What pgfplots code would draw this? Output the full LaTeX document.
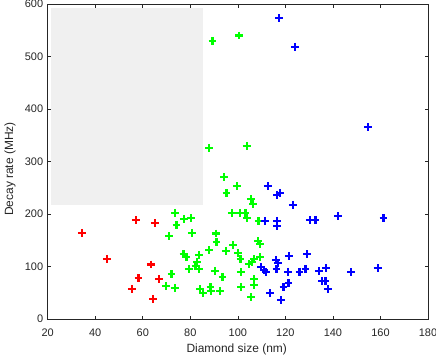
\documentclass[border=0pt]{standalone}
\usepackage{fontspec}
\setmainfont{Liberation Sans}
\usepackage{pgfplots}
\pgfplotsset{compat=1.18}

\definecolor{axgray}{RGB}{38,38,38}
\definecolor{boxfill}{RGB}{240,240,240}

\pgfplotsset{pluspts/.style={only marks, mark=+, mark size=3.9bp, line width=2.2bp}}

\begin{document}
\begin{tikzpicture}
\begin{axis}[
    scale only axis,
    width=380.3bp, height=315bp,
    xmin=20, xmax=180, ymin=0, ymax=600,
    xtick={20,40,...,180},
    ytick={0,100,...,600},
    tick align=inside,
    major tick length=3.5bp,
    axis line style={axgray, line width=0.6bp},
    tick style={axgray, line width=0.6bp},
    /pgf/number format/assume math mode=true,
    ticklabel style={font=\fontsize{11}{13}\selectfont, text=axgray},
    xticklabel style={anchor=north, inner sep=0pt, yshift=-10bp},
    yticklabel style={anchor=east, inner sep=0pt, xshift=-4.4bp},
    xlabel={Diamond size (nm)},
    ylabel={Decay rate (MHz)},
    label style={font=\fontsize{12}{14}\selectfont, text=axgray},
    xlabel style={at={(axis description cs:0.497,0)}, anchor=base, yshift=-33.3bp},
    ylabel style={at={(axis description cs:-0.099,0.476)}, anchor=center, rotate=0},
]

% grey patch
\addplot[draw=none, fill=boxfill, mark=none] coordinates {
    (21.3,217) (85.5,217) (85.5,592) (21.3,592)
} -- cycle;

% red
\addplot[pluspts, color=red] coordinates {
    (34.3,164.4) (44.9,114.9) (57.1,188) (65.1,182.9) (63.4,104)
    (58.2,77.5) (55.4,56.5) (66.9,76) (64.4,38.7)
};

% green
\addplot[pluspts, color=green] coordinates {
    (89.3,530) (100.5,540) (87.9,325) (103.7,330)
    (94.2,270) (95.2,239.4) (99.5,253.3) (105.4,228.6) (106.4,219)
    (73.6,202.5) (74.2,179.7) (77.3,191) (80.3,192.4) (80.6,164.4) (71,157.5)
    (97.4,201.3) (100.8,202.5) (103.2,202.5) (104,192.4) (108.7,186)
    (90.7,163) (91,146.7) (108.5,148.6) (109.2,142.9) (98,140.4)
    (87.9,130.8) (94.9,129.5) (100.1,125.7) (101.1,114.3) (106.7,114.3)
    (109.3,117.5) (104.6,104.8) (106,108)
    (77.1,123.2) (78.4,118) (83.6,121.9) (82.7,109) (79.4,95.8) (82.2,101) (83.7,94.6)
    (72.1,85.7) (90.4,92) (93.5,80.6) (101.2,89)
    (106.7,76.2) (106.7,65.3) (101.3,61.5) (105.5,41.9)
    (69.7,63.5) (73.4,59.7) (84.1,57.8) (85.5,49.5) (88.5,60.3) (88.7,54) (92.5,52.7)
};

% blue
\addplot[pluspts, color=blue] coordinates {
    (117.2,572.7) (124,518.7) (154.9,365)
    (112.6,253.3) (116.6,236.8) (117.6,240.6) (123.1,217.7)
    (111.4,187.2) (116.5,187.2) (116.5,177) (130.3,189) (132.7,189) (142.1,195.6) (161.3,192.4)
    (116,113) (117,106.7) (121.4,120) (129.2,123.8)
    (109.9,98.4) (111,93.3) (112,89) (116.3,94.6) (121.1,90.1) (125.9,90.1)
    (128.5,95.8) (134,90.8) (137.2,96.6)
    (135.4,71.8) (136.9,71.8) (137.8,57.1) (147.6,89) (158.8,96.6)
    (119.2,61) (121.3,68) (113.5,49.5) (118.2,35.6)
};

\coordinate (sw) at (rel axis cs:0,0);
\coordinate (ne) at (rel axis cs:1,1);
\end{axis}
\path (sw) ++(-47.7bp,-37bp) coordinate (bbA);
\path (ne) ++(8bp,4bp) coordinate (bbB);
\pgfresetboundingbox
\path (bbA) rectangle (bbB);
\end{tikzpicture}
\end{document}
